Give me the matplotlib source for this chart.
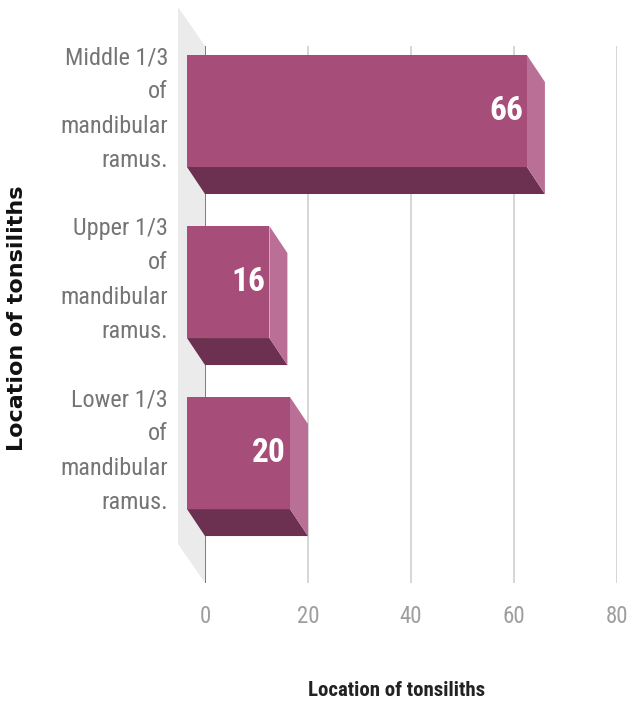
import matplotlib
matplotlib.use("Agg")
import matplotlib.pyplot as plt
from matplotlib import font_manager
from matplotlib.patches import Polygon

# ---- data ----
categories = ["Middle 1/3\nof\nmandibular\nramus.",
              "Upper 1/3\nof\nmandibular\nramus.",
              "Lower 1/3\nof\nmandibular\nramus."]
values = [66, 16, 20]
xticks = [0, 20, 40, 60, 80]
x_title = "Location of tonsiliths"
y_title = "Location of tonsiliths"

# ---- fonts ----
names = {f.name for f in font_manager.fontManager.ttflist}
if "Roboto Condensed" in names:
    narrow, stretch = "Roboto Condensed", "normal"
elif "Liberation Sans Narrow" in names:
    narrow, stretch = "Liberation Sans Narrow", "normal"
else:
    narrow, stretch = "DejaVu Sans", "condensed"

W, H = 629, 706
fig = plt.figure(figsize=(W / 100, H / 100), dpi=100)
ax = fig.add_axes([205 / W, 1 - 583 / H, 412 / W, 537 / H])
ax.set_xlim(0, 80)
ax.set_ylim(2.602, -0.538)
for sp in ax.spines.values():
    sp.set_visible(False)
ax.set_yticks([])
ax.set_xticks(xticks)
ax.set_xticklabels([str(t) for t in xticks])
ax.tick_params(axis="x", length=0, pad=16, labelcolor="#9e9e9e", labelsize=16.5)
for lbl in ax.get_xticklabels():
    lbl.set_fontfamily(narrow)
    lbl.set_fontstretch(stretch)

# pixel -> data conversions
ppx = ax.bbox.width / 80.0
ppy = ax.bbox.height / (2.602 + 0.538)

# gridlines
for t in xticks:
    ax.axvline(t, color="#666666" if t == 0 else "#d0d0d0", lw=1.2, zorder=1)

# left wall
ytop, ybot = -0.538, 2.602
wx, wy = 27 / ppx, 39 / ppy
wall = Polygon([(0, ytop), (0, ybot), (-wx, ybot - wy), (-wx, ytop - wy)],
               closed=True, facecolor="#ebebeb", edgecolor="none",
               clip_on=False, zorder=0)
ax.add_patch(wall)

# bars
front_c, bottom_c, side_c = "#a64d79", "#6c3150", "#b96f96"
h = 0.655
bx, by = 18 / ppx, 27 / ppy
for i, v in enumerate(values):
    y0, y1 = i - h / 2, i + h / 2
    bottom = Polygon([(-bx, y1 - by), (v - bx, y1 - by), (v, y1), (0, y1)],
                     closed=True, facecolor=bottom_c, edgecolor="none",
                     clip_on=False, zorder=2)
    side = Polygon([(v - bx, y0 - by), (v, y0), (v, y1), (v - bx, y1 - by)],
                   closed=True, facecolor=side_c, edgecolor="none",
                   clip_on=False, zorder=2)
    ax.add_patch(bottom)
    ax.add_patch(side)
    bars = ax.barh([i - by], [v], height=h, left=-bx, color=front_c,
                   edgecolor="none", zorder=3)
    for b in bars:
        b.set_clip_on(False)
    ax.text(v - bx - 4 / ppx, i - by, str(v), ha="right", va="center",
            color="white", fontsize=24, fontweight="bold",
            family=narrow, fontstretch=stretch, zorder=4)
    ax.text(-37 / ppx, i - by - 2 / ppy, categories[i], ha="right", va="center",
            multialignment="right", linespacing=1.62, fontsize=17.5,
            color="#757575", family=narrow, fontstretch=stretch,
            clip_on=False)

fig.text(397 / W, 1 - 690 / H, x_title, ha="center", va="center",
         fontsize=15, fontweight="bold", color="#222222",
         family=narrow, fontstretch=stretch)
fig.text(17 / W, 1 - 318 / H, y_title, ha="center", va="center",
         rotation=90, fontsize=16, fontweight="bold", color="#111111",
         family="DejaVu Sans")

fig.savefig("out.png", dpi=100)
